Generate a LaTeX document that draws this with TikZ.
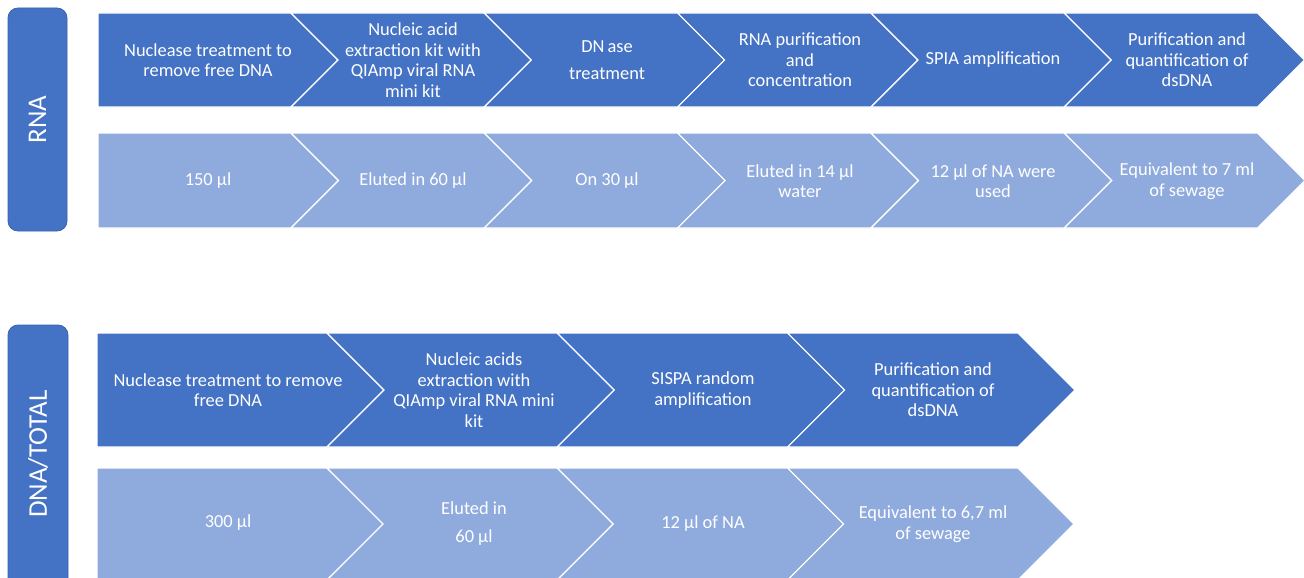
\documentclass[tikz,border=0pt]{standalone}
\usepackage{fontspec}
\setmainfont{Carlito}
\usepackage{tikz}
\usepackage{xcolor}
\definecolor{stepdark}{HTML}{4472C4}
\definecolor{steplight}{HTML}{8FAADC}
\definecolor{sideedge}{HTML}{3A62AE}

\begin{document}
\begin{tikzpicture}[x=1pt,y=-1pt,
  steptext/.style={text=white,align=center,font=\fontsize{18.4}{20.5}\selectfont},
  chevdark/.style={fill=stepdark,draw=white,line width=1.2pt},
  chevlight/.style={fill=steplight,draw=white,line width=1.2pt},
  sidebox/.style={fill=stepdark,draw=sideedge,line width=0.8pt,rounded corners=10pt},
  sidetext/.style={text=white,rotate=90,font=\fontsize{27}{32}\selectfont}]
  \useasboundingbox (0,0) rectangle (1304,578);
  \clip (0,0) rectangle (1304,578);
  \draw[sidebox] (8,8) rectangle (67,231);
  \node[sidetext] (rnalabel) at (37.5,119.5) {RNA};
  \draw[chevdark] (98,13) -- (291,13) -- (338,60) -- (291,107) -- (98,107) -- cycle;
  \foreach \a in {291,484.3,677.6,870.9,1064.2}
    \draw[chevdark] (\a,13) -- ++(193.3,0) -- ++(47,47) -- ++(-47,47) -- ++(-193.3,0) -- ++(47,-47) -- cycle;
  \draw[chevlight] (98,133) -- (291,133) -- (338.5,180.5) -- (291,228) -- (98,228) -- cycle;
  \foreach \a in {291,484.3,677.6,870.9,1064.2}
    \draw[chevlight] (\a,133) -- ++(193.3,0) -- ++(47.5,47.5) -- ++(-47.5,47.5) -- ++(-193.3,0) -- ++(47.5,-47.5) -- cycle;
  \node[steptext] (rnastep1) at (208,60) {Nuclease treatment to\\remove free DNA};
  \node[steptext] (rnastep2) at (413,60) {Nucleic acid\\extraction kit with\\QIAmp viral RNA\\mini kit};
  \node[steptext] (rnastep3) at (607,60) {DN\,ase\\[6.5pt]treatment};
  \node[steptext] (rnastep4) at (800,60) {RNA purification\\and\\concentration};
  \node[steptext] (rnastep5) at (993,60) {SPIA amplification};
  \node[steptext] (rnastep6) at (1187,60) {Purification and\\quantification of\\dsDNA};
  \node[steptext] (rnavol1) at (208,181) {150 µl};
  \node[steptext] (rnavol2) at (413,181) {Eluted in 60 µl};
  \node[steptext] (rnavol3) at (607,181) {On 30 µl};
  \node[steptext] (rnavol4) at (800,181) {Eluted in 14 µl\\water};
  \node[steptext] (rnavol5) at (993,181) {12 µl of NA were\\used};
  \node[steptext] (rnavol6) at (1187,181) {Equivalent to 7 ml\\of sewage};
  \draw[sidebox] (8,325) rectangle (68,590);
  \node[sidetext] (dnalabel) at (38,454) {DNA/TOTAL};
  \draw[chevdark] (97,333) -- (327,333) -- (384,390) -- (327,447) -- (97,447) -- cycle;
  \foreach \a in {327,557.3,787.6}
    \draw[chevdark] (\a,333) -- ++(230.3,0) -- ++(57,57) -- ++(-57,57) -- ++(-230.3,0) -- ++(57,-57) -- cycle;
  \draw[chevlight] (97,468) -- (327,468) -- (384,524) -- (327,580) -- (97,580) -- cycle;
  \foreach \a in {327,557.3,787.6}
    \draw[chevlight] (\a,468) -- ++(230.3,0) -- ++(56,56) -- ++(-56,56) -- ++(-230.3,0) -- ++(56,-56) -- cycle;
  \node[steptext] (dnastep1) at (228,390) {Nuclease treatment to remove\\free DNA};
  \node[steptext] (dnastep2) at (474,390) {Nucleic acids\\extraction with\\QIAmp viral RNA mini\\kit};
  \node[steptext] (dnastep3) at (703,390) {SISPA random\\amplification};
  \node[steptext] (dnastep4) at (933,390) {Purification and\\quantification of\\dsDNA};
  \node[steptext] (dnavol1) at (228,523) {300 µl};
  \node[steptext] (dnavol2) at (474,524) {Eluted in\\[7.5pt]60 µl};
  \node[steptext] (dnavol3) at (703,524) {12 µl of NA};
  \node[steptext] (dnavol4) at (933,524) {Equivalent to 6,7 ml\\of sewage};
\end{tikzpicture}
\end{document}
